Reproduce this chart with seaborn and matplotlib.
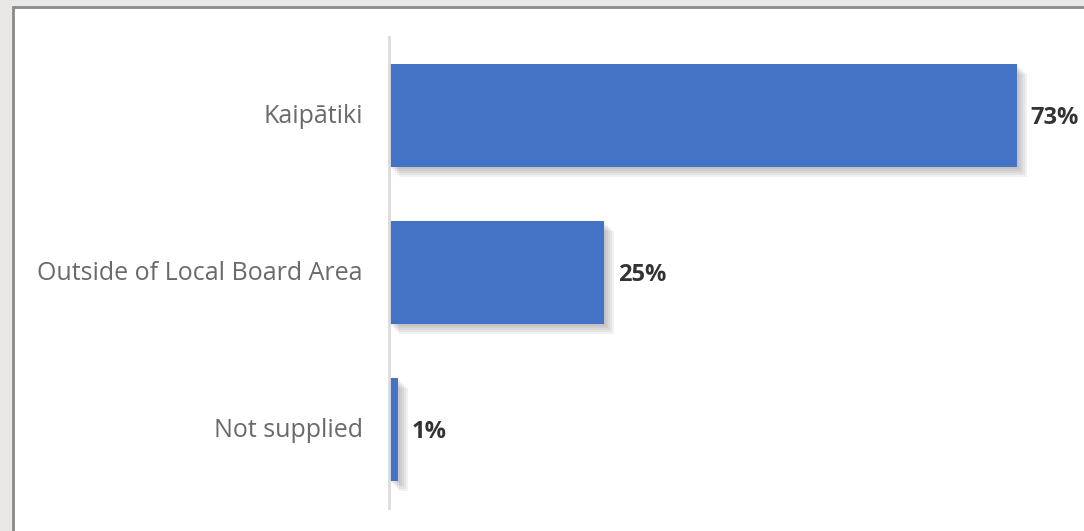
import matplotlib
matplotlib.use("Agg")
import matplotlib.pyplot as plt
import matplotlib.patheffects as pe
import matplotlib.transforms as mtransforms
from matplotlib.patches import Rectangle
import pandas as pd
import seaborn as sns

categories = ["Kaipātiki", "Outside of Local Board Area", "Not supplied"]
percentages = [73, 25, 1]
value_labels = ["73%", "25%", "1%"]

df = pd.DataFrame({"area": categories, "pct": percentages})

sns.set_theme(style="white")
plt.rcParams["font.family"] = ["Open Sans", "DejaVu Sans"]

W, H = 1084, 531
fig = plt.figure(figsize=(W / 100, H / 100), dpi=100)
fig.patch.set_facecolor("#e9e8e6")

# white card with a grey frame, running off the right and bottom edges
card = Rectangle((13 / W, -0.1), 1.2, 1 - 7 / H + 0.1, transform=fig.transFigure,
                 facecolor="white", edgecolor="#8a8a8a", linewidth=2.0, zorder=-5)
fig.patches.append(card)

ax = fig.add_axes([389 / W, 1 - 508 / H, (W - 389) / W, (508 - 37) / H])
ax.set_facecolor("none")

sns.barplot(data=df, x="pct", y="area", orient="h", color="#4472c4",
            width=0.656, saturation=1, ax=ax)

# soft drop shadow built from a few stacked, offset translucent copies
shadow = [pe.SimplePatchShadow(offset=(o, -o), shadow_rgbFace="#555555", alpha=0.08)
          for o in (1.5, 3, 4.5, 6, 7.5)]
for bar in ax.patches:
    bar.set_path_effects(shadow + [pe.Normal()])
    bar.set_edgecolor("none")

for i, (v, lab) in enumerate(zip(percentages, value_labels)):
    ax.annotate(lab, xy=(v, i), xytext=(14, -2), textcoords="offset pixels",
                ha="left", va="center", fontsize=17, fontweight="bold",
                color="#333333", family=["Open Sans", "DejaVu Sans"], clip_on=False)

ax.set_xlim(0, (W - 389) / 8.6)
ax.set_ylim(2.5, -0.5)
ax.set_xlabel("")
ax.set_ylabel("")
ax.set_xticks([])
ax.tick_params(axis="y", length=0, pad=19, labelsize=18, labelcolor="#6a6a6a")

# nudge category labels up slightly
lift = mtransforms.ScaledTranslation(0, 2 / 100, fig.dpi_scale_trans)
for t in ax.get_yticklabels():
    t.set_transform(t.get_transform() + lift)

for s in ("top", "right", "bottom"):
    ax.spines[s].set_visible(False)
ax.spines["left"].set_color("#dcdcdc")
ax.spines["left"].set_linewidth(2)

fig.savefig("out.png", dpi=100, facecolor=fig.get_facecolor())
